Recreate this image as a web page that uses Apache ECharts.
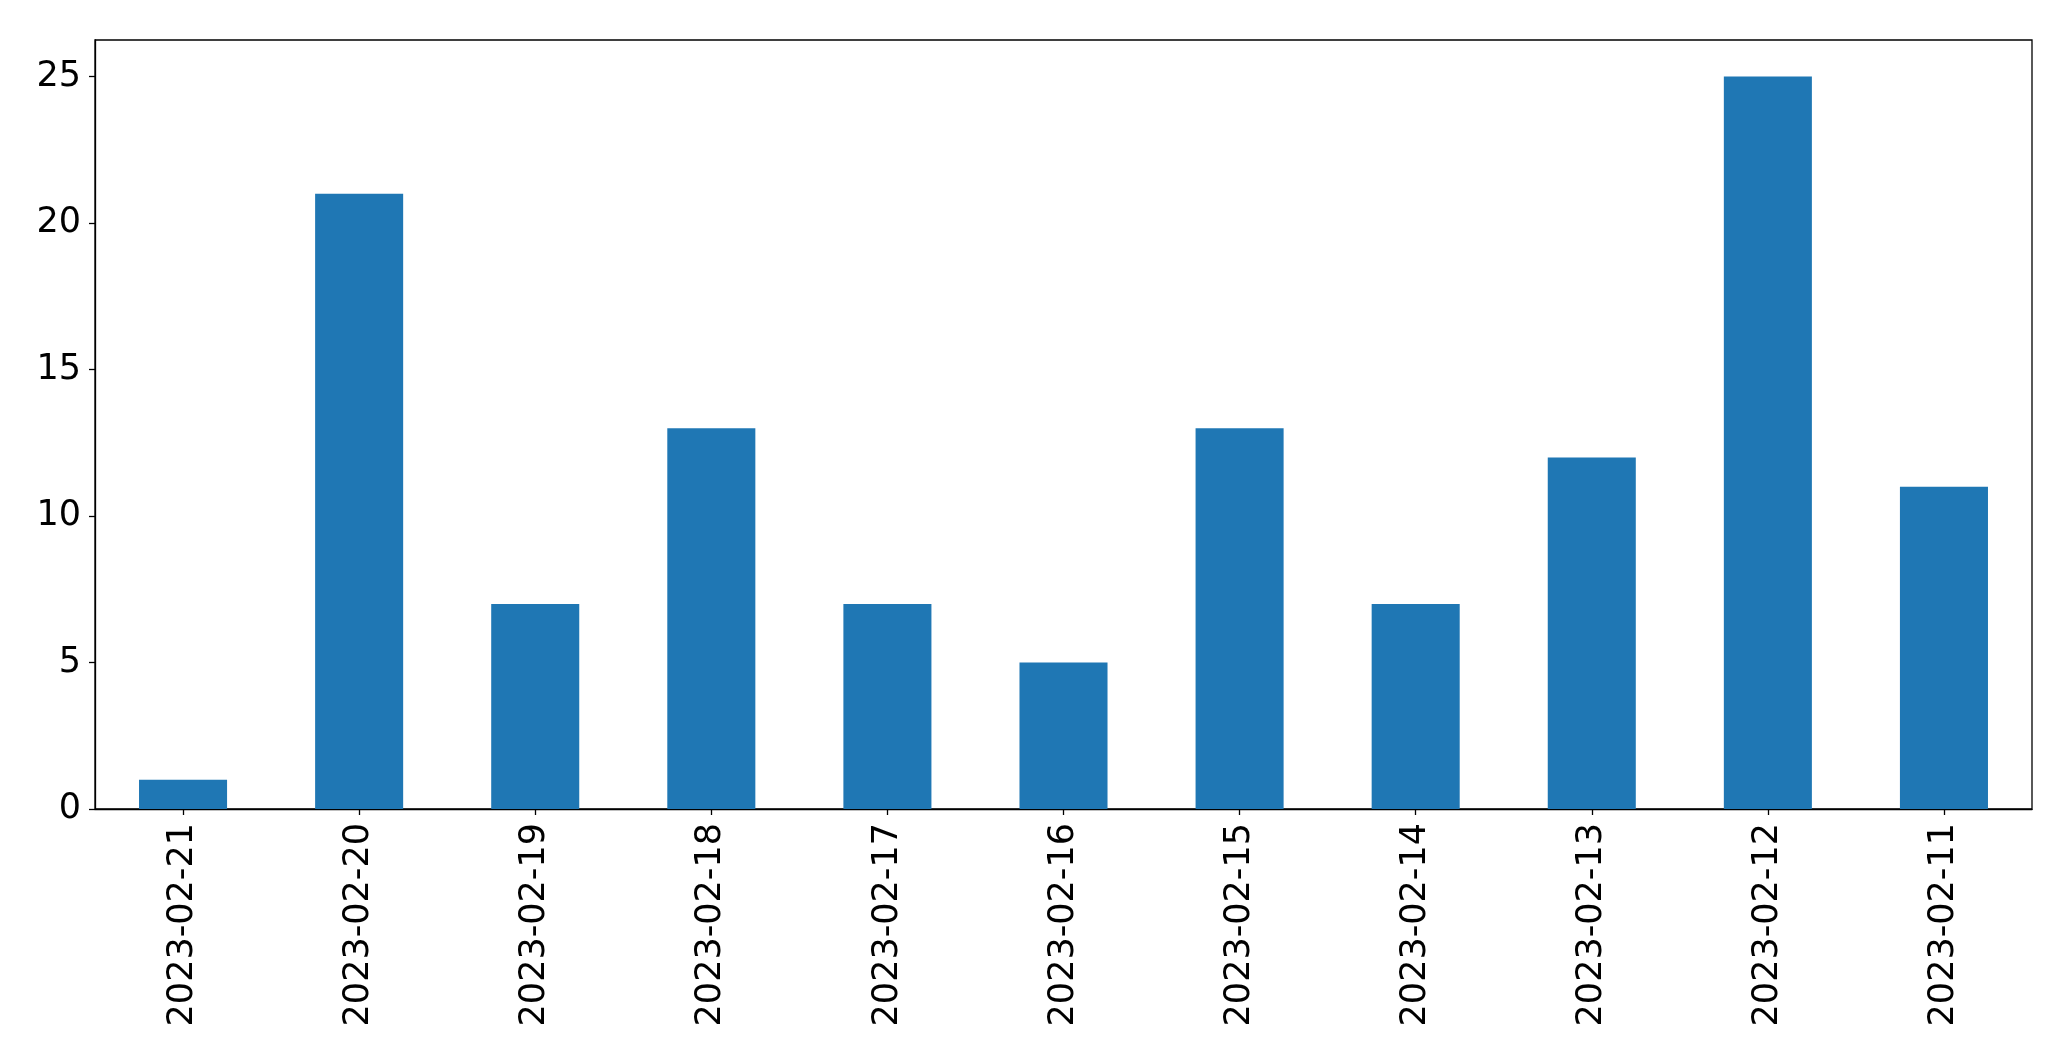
<!DOCTYPE html>
<html><head><meta charset="utf-8">
<script src="https://cdn.jsdelivr.net/npm/echarts@6/dist/echarts.min.js"></script>
<style>html,body{margin:0;padding:0;background:#fff}#c{width:2071px;height:1061px}</style>
</head><body><div id="c"></div>
<script>
const categories = ["2023-02-21","2023-02-20","2023-02-19","2023-02-18","2023-02-17","2023-02-16","2023-02-15","2023-02-14","2023-02-13","2023-02-12","2023-02-11"];
const values = [1,21,7,13,7,5,13,7,12,25,11];
const yTicks = [0,5,10,15,20,25];

const chart = echarts.init(document.getElementById('c'), null, {renderer:'canvas'});
const font = 'DejaVu Sans';
chart.setOption({
  animation:false,
  backgroundColor:'#fff',
  grid:{left:95,top:40,right:39,bottom:252,show:true,borderColor:'#000',borderWidth:1.3,backgroundColor:'transparent'},
  xAxis:{type:'category',data:categories,boundaryGap:true,
    axisLine:{show:true,lineStyle:{color:'#000',width:1.3}},
    axisTick:{show:true,alignWithLabel:true,length:6,lineStyle:{color:'#000',width:1.3}},
    axisLabel:{rotate:90,fontFamily:font,fontSize:35,color:'#000',margin:14,interval:0},
    splitLine:{show:false}},
  yAxis:{type:'value',min:0,max:26.25,interval:5,
    axisLine:{show:true,lineStyle:{color:'#000',width:1.3}},
    axisTick:{show:true,length:6,customValues:yTicks,lineStyle:{color:'#000',width:1.3}},
    axisLabel:{fontFamily:font,fontSize:35,color:'#000',margin:14,customValues:yTicks,
      formatter:v=>String(v)},
    splitLine:{show:false}},
  series:[{type:'bar',data:values,barWidth:'50%',itemStyle:{color:'#1f77b4'}}]
});
</script></body></html>
